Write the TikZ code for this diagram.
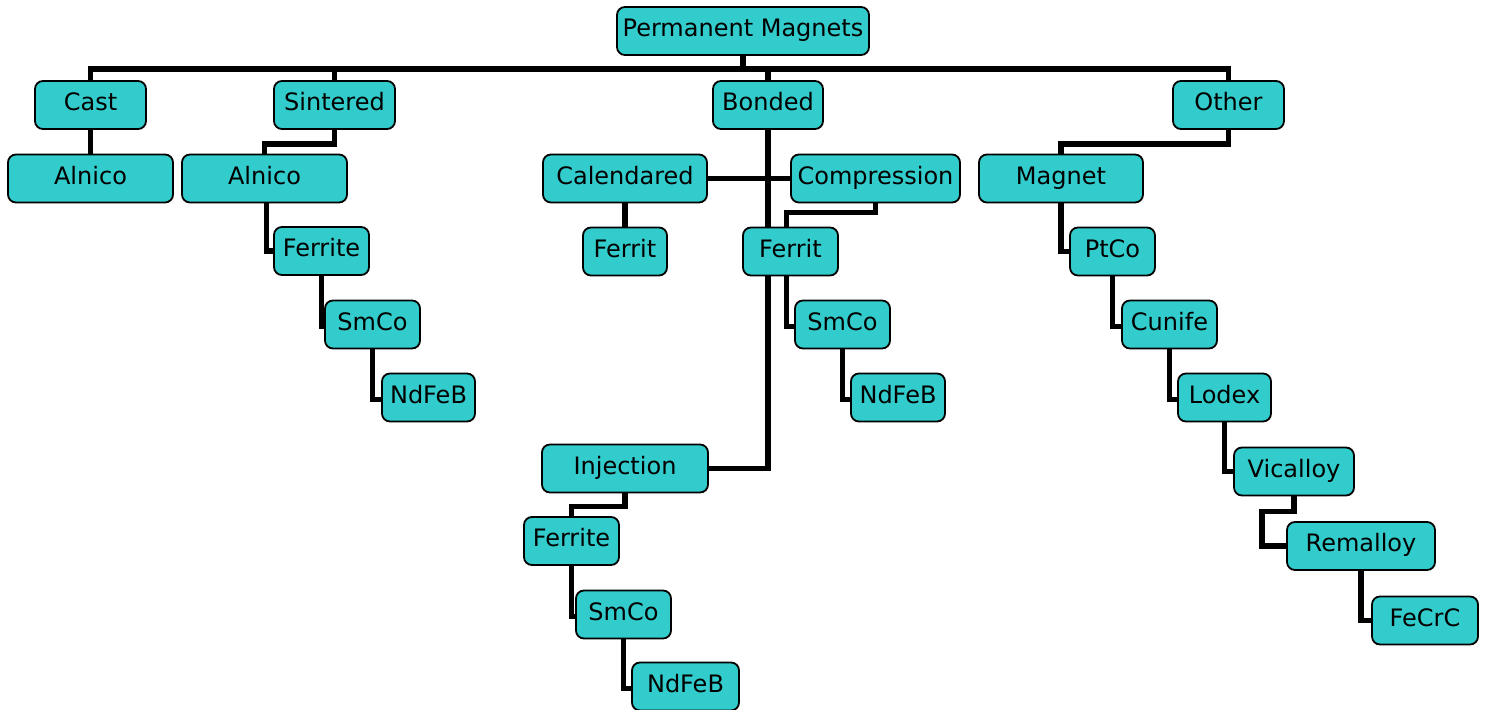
\documentclass[tikz,border=0pt]{standalone}
\usepackage{fontspec}
\setmainfont{DejaVu Sans}
\usepackage{xcolor}
\usepackage{tikz}
\usetikzlibrary{positioning,backgrounds}

\definecolor{boxfill}{HTML}{33CCCC}

\tikzset{
  box/.style={draw, fill=boxfill, rounded corners=4pt, line width=0.9pt,
    minimum height=24pt, inner sep=2pt, text height=9pt, text depth=3pt,
    font=\fontsize{12}{14}\selectfont},
  link/.style={line width=2.7pt}
}

\begin{document}
\begin{tikzpicture}[x=0.5pt, y=-0.5pt]
            \useasboundingbox (0,0) rectangle (1488,710);

            \node [box, minimum width=126pt] (magnets) at (743,31) {Permanent Magnets};

            \node [box, minimum width=55.5pt] (cast) at (90.5,105) {Cast};
            \node [box, minimum width=60.5pt] (sintered) at (334.5,105) {Sintered};
            \node [box, minimum width=55pt] (bonded) at (768,105) {Bonded};
            \node [box, minimum width=55.5pt] (other) at (1228.5,105) {Other};

            % cast and sintered
            \node [box, minimum width=82.5pt] (alnico1) at (90.5,178.5) {Alnico};
            \node [box, minimum width=82.5pt] (alnico2) at (264.5,178.5) {Alnico};
            \node [box, minimum width=47.5pt] (ferrite1) at (321.5,251) {Ferrite};
            \node [box, minimum width=47.5pt] (smco1) at (372.5,324.5) {SmCo};
            \node [box, minimum width=46.5pt] (ndfeb1) at (428.5,397.5) {NdFeB};

            % bonded
            \node [box, minimum width=82pt] (calendared) at (625,178.5) {Calendared};
            \node [box, minimum width=84.5pt] (compression) at (875.5,178.5) {Compression};
            \node [box, minimum width=42pt] (ferrit1) at (625,251.5) {Ferrit};
            \node [box, minimum width=47.5pt] (ferrit2) at (790.5,251.5) {Ferrit};
            \node [box, minimum width=47.5pt] (smco2) at (842.5,324.5) {SmCo};
            \node [box, minimum width=47pt] (ndfeb2) at (898,397.5) {NdFeB};
            \node [box, minimum width=83pt] (injection) at (625,468.5) {Injection};
            \node [box, minimum width=47.5pt] (ferrite3) at (571.5,541) {Ferrite};
            \node [box, minimum width=47.5pt] (smco3) at (623.5,614.5) {SmCo};
            \node [box, minimum width=53.5pt] (ndfeb3) at (685.5,686.5) {NdFeB};

            % other
            \node [box, minimum width=82pt] (magnet) at (1061,178.5) {Magnet};
            \node [box, minimum width=42.5pt] (ptco) at (1112.5,251.5) {PtCo};
            \node [box, minimum width=47.5pt] (cunife) at (1169.5,324.5) {Cunife};
            \node [box, minimum width=46.5pt] (lodex) at (1224.5,397.5) {Lodex};
            \node [box, minimum width=60pt] (vicalloy) at (1294,471.5) {Vicalloy};
            \node [box, minimum width=74pt] (remalloy) at (1361,546) {Remalloy};
            \node [box, minimum width=53pt] (fecrc) at (1425,620.5) {FeCrC};

            \begin{pgfonlayer}{background}
            \draw [link] (magnets.south) -- ++(0,13) coordinate (bus);
            \draw [link] (cast.north) |- (bus) -| (other.north);
            \draw [link] (sintered.north) -- (sintered.north |- bus);
            \draw [link] (bonded.north) -- (bonded.north |- bus);

            \draw [link] (cast) -- (alnico1);
            \draw [link] (sintered.south) -- ++(0,14) -| (alnico2.north);
            \draw [link] ([xshift=1pt]alnico2.south) |- (ferrite1.west);
            \draw [link] (ferrite1.south) |- ([yshift=-1pt]smco1.west);
            \draw [link] (smco1.south) |- ([yshift=-1pt]ndfeb1.west);

            \draw [link] (bonded.south) |- (injection.east);
            \draw [link] (calendared.east) -- (compression.west);
            \draw [link] (calendared) -- (ferrit1);
            \draw [link] (compression.south) -- ++(0,9) -| ([xshift=-2pt]ferrit2.north);
            \draw [link] ([xshift=-2pt]ferrit2.south) |- ([yshift=-1pt]smco2.west);
            \draw [link] (smco2.south) |- ([yshift=-1pt]ndfeb2.west);
            \draw [link] (injection.south) -- ++(0,13) -| (ferrite3.north);
            \draw [link] (ferrite3.south) |- ([yshift=-1pt]smco3.west);
            \draw [link] (smco3.south) |- ([yshift=-1pt]ndfeb3.west);

            \draw [link] (other.south) -- ++(0,14) -| (magnet.north);
            \draw [link] (magnet.south) |- (ptco.west);
            \draw [link] (ptco.south) |- ([yshift=-1pt]cunife.west);
            \draw [link] (cunife.south) |- ([yshift=-1pt]lodex.west);
            \draw [link] (lodex.south) |- (vicalloy.west);
            \draw [link] (vicalloy.south) -- ++(0,15) -| ([xshift=-12pt]remalloy.west) -- (remalloy.west);
            \draw [link] (remalloy.south) |- (fecrc.west);
            \end{pgfonlayer}
\end{tikzpicture}
\end{document}
